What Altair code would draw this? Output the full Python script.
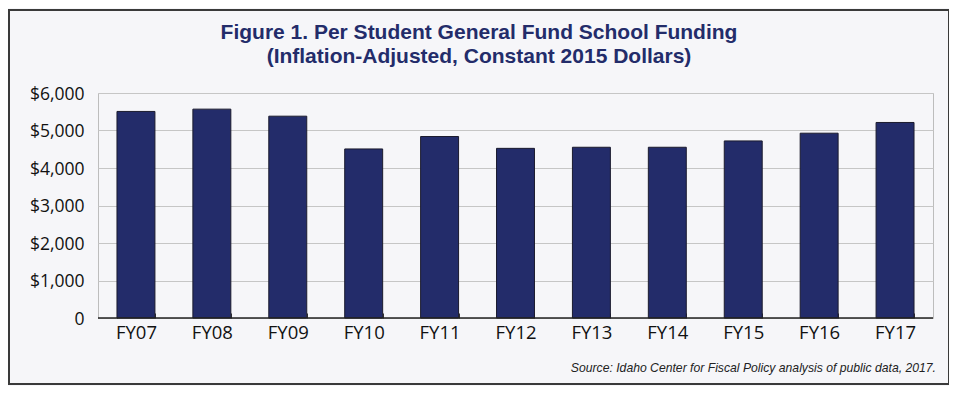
import altair as alt
import pandas as pd

years = ["FY07", "FY08", "FY09", "FY10", "FY11", "FY12", "FY13", "FY14", "FY15", "FY16", "FY17"]
funding = [5508, 5570, 5382, 4508, 4840, 4524, 4553, 4553, 4722, 4928, 5214]
y_ticks = [0, 1000, 2000, 3000, 4000, 5000, 6000]
title_lines = ["Figure 1. Per Student General Fund School Funding",
               "(Inflation-Adjusted, Constant 2015 Dollars)"]
source_text = "Source: Idaho Center for Fiscal Policy analysis of public data, 2017."

df = pd.DataFrame({"year": years, "funding": funding})

W, H = 835, 225
NAVY = "#232c6a"
LABEL_FONT = "Open Sans"
NARROW = "Liberation Sans"

frame_data = alt.Data(values=[{"k": 1}])

frame = alt.Chart(frame_data).mark_rect(fillOpacity=0, stroke="#3a3a3a", strokeWidth=2).encode(
    x=alt.value(-89), x2=alt.value(851), y=alt.value(-83), y2=alt.value(291)
)

x_enc = alt.X(
    "year:N", sort=years, title=None,
    scale=alt.Scale(paddingInner=0.5, paddingOuter=0.25),
    axis=alt.Axis(labelAngle=0, labelFont=LABEL_FONT, labelFontSize=18.5, labelColor="#111111",
                  domain=False, ticks=True, tickBand="extent", tickSize=5, tickColor="#333333",
                  offset=-5, labelPadding=5, grid=False),
)
y_enc = alt.Y(
    "funding:Q", title=None,
    scale=alt.Scale(domain=[0, 6000], nice=False),
    axis=alt.Axis(values=y_ticks, domain=False, ticks=False, labelPadding=14,
                  labelFont=LABEL_FONT, labelFontSize=17.5, labelColor="#111111",
                  labelExpr="datum.value == 0 ? '0' : '$' + format(datum.value, ',')",
                  labelBaseline="middle", labelOffset=1,
                  grid=True, gridColor="#c6c6c6", gridWidth=1),
)

bars = alt.Chart(df).mark_bar(fill=NAVY, stroke="#1b1b2e", strokeWidth=1).encode(x=x_enc, y=y_enc)

baseline = alt.Chart(frame_data).mark_rule(color="#222222", strokeWidth=1.5).encode(
    x=alt.value(0), x2=alt.value(W), y=alt.value(H)
)

title = alt.Chart(frame_data).mark_text(
    text=title_lines, align="center", baseline="middle", font=NARROW,
    fontWeight="bold", fontSize=21, lineHeight=24, color=NAVY
).encode(x=alt.value(381), y=alt.value(-60))

source = alt.Chart(frame_data).mark_text(
    text=source_text, align="right", baseline="middle", font=NARROW,
    fontStyle="italic", fontSize=12.2, color="#222222"
).encode(x=alt.value(838), y=alt.value(275))

chart = alt.layer(bars, baseline, frame, title, source).properties(
    width=W, height=H,
    padding={"left": 90, "top": 85, "right": 16, "bottom": 68},
    autosize=alt.AutoSizeParams(type="none"),
).configure(background="#f6f6f9").configure_view(stroke="#bdbdbd", strokeWidth=1)

chart.save("out.html", embed_options={"renderer": "svg", "actions": False})
